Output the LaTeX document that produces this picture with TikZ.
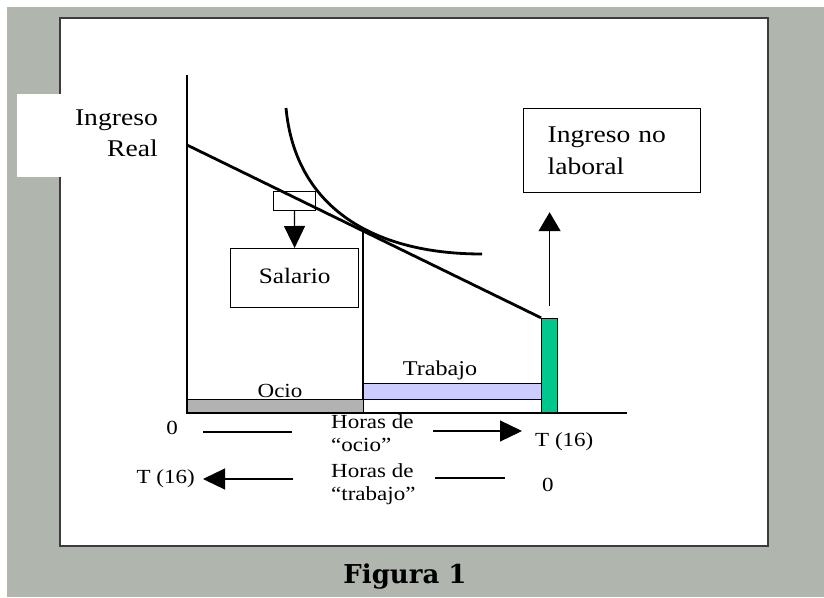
\documentclass[tikz,border=0pt]{standalone}
\usepackage{fontspec}
\setmainfont{Liberation Serif}[FakeStretch=1.15]
\newfontfamily\figfont{DejaVu Serif}
\usetikzlibrary{arrows.meta,calc}
\definecolor{bggrey}{RGB}{176,181,174}
\definecolor{framegrey}{RGB}{60,60,60}
\definecolor{tgreen}{RGB}{0,199,140}
\definecolor{lav}{RGB}{204,204,255}
\definecolor{ociogrey}{RGB}{178,178,178}
\tikzset{
  lbl/.style={inner sep=0pt, font=\fontsize{20}{23}\selectfont},
  biglbl/.style={inner sep=0pt, font=\fontsize{24}{31}\selectfont},
  box/.style={draw, line width=1.2pt, fill=white, inner sep=0pt},
  bar/.style={draw, line width=1.2pt, inner sep=0pt},
  heavy/.style={line width=2.8pt},
  thinline/.style={line width=1.2pt},
  arr/.style={line width=1.2pt, -{Triangle[length=22pt,width=21pt]}},
}
\begin{document}
\begin{tikzpicture}[x=1pt,y=-1pt]
\useasboundingbox (0,0) rectangle (824,597);
\fill[white] (0,0) rectangle (824,597);
\fill[bggrey] (7,7) rectangle (824,597);
\draw[fill=white, draw=framegrey, line width=2pt] (60,18) rectangle (768,546);
\fill[white] (17,94) rectangle (62,177);

% axis label
\node[biglbl, align=right, anchor=north east] (ingreso) at (158,110) {Ingreso\\Real};

% axes
\coordinate (O) at (187,413);
\coordinate (ytop) at (187,75);
\coordinate (xend) at (627,413);
\coordinate (B0) at (187,145);
\coordinate (tan) at (363,229);

% thin vertical line at tangency
\draw[thinline] (tan) -- (tan |- O);

% bars
\node[bar, fill=ociogrey, minimum width=176pt, minimum height=14pt, anchor=north west] (ociobar) at (187,399) {};
\node[bar, fill=lav, minimum width=178pt, minimum height=16pt, anchor=north west] (trabbar) at (363,383) {};
\node[bar, fill=tgreen, minimum width=16pt, minimum height=94pt, anchor=south west] (tbar) at (541,413) {};

\draw[heavy] (ytop) -- (O) -- (xend);

% slope marker and salary box
\node[box, line width=0.9pt, minimum width=42pt, minimum height=19pt, anchor=north west] (slope) at (273,191) {};
\node[box, minimum width=128pt, minimum height=59pt, anchor=north west, font=\fontsize{22}{26}\selectfont] (salario) at (230,248) {\raisebox{5pt}{Salario}};
\draw[arr] (slope.south) -- (salario.north);

% budget line
\draw[heavy] (B0) -- (tbar.north west);

% indifference curve
\coordinate (ic0) at (286,108);
\coordinate (ic1) at (482,254);
\draw[heavy] (ic0) .. controls (295,205) and (370,254) .. (ic1);

% non-labour income box
\node[box, minimum width=177pt, minimum height=84pt, anchor=north west, align=left, text width=129pt, inner xsep=24pt, font=\fontsize{24}{32}\selectfont] (laboral) at (523,108) {Ingreso no\\laboral};
\draw[line width=1.2pt, -{Triangle[length=19pt,width=22pt]}] ($(tbar.north)+(0,-12)$) -- ($(tbar.north |- laboral.south)+(0,19)$);

% bar labels
\node[lbl, anchor=base] (ocio) at (280,397) {Ocio};
\node[lbl, font=\fontsize{21}{24}\selectfont, anchor=base] (trabajo) at (440,375) {Trabajo};

% bottom rows
\node[lbl, anchor=base] (zeroA) at (172,434) {0};
\coordinate (lineAa) at (203,432);
\coordinate (lineAb) at (292,432);
\draw[thinline] (lineAa) -- (lineAb);
\node[lbl, align=left, anchor=north west] (horasA) at (331,414) {Horas de\\“ocio”};
\coordinate (arrAa) at (433,431);
\coordinate (arrAb) at (522,431);
\draw[arr] (arrAa) -- (arrAb);
\node[lbl, anchor=base west] (TA) at (535,446) {T (16)};

\node[lbl, anchor=base east] (TB) at (195,483) {T (16)};
\coordinate (arrBa) at (293,479);
\coordinate (arrBb) at (203,479);
\draw[arr] (arrBa) -- (arrBb);
\node[lbl, align=left, anchor=north west] (horasB) at (331,463) {Horas de\\“trabajo”};
\coordinate (lineBa) at (435,478);
\coordinate (lineBb) at (505,478);
\draw[thinline] (lineBa) -- (lineBb);
\node[lbl, anchor=base west] (zeroB) at (542,491) {0};

% caption
\node[inner sep=0pt, font=\figfont\bfseries\fontsize{26}{30}\selectfont, anchor=base] (fig) at (405,583) {Figura 1};
\end{tikzpicture}
\end{document}
